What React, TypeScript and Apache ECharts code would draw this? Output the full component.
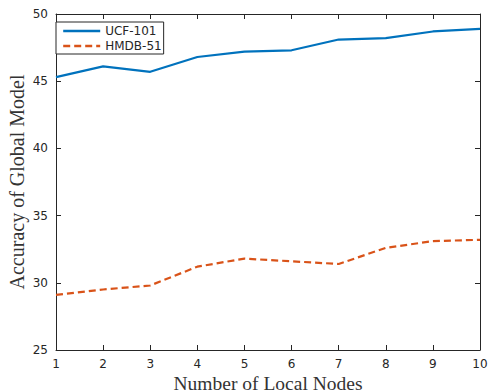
import React, { useEffect, useRef } from "react";
import * as echarts from "echarts";

const nodes = [1, 2, 3, 4, 5, 6, 7, 8, 9, 10];
const ucf101 = [45.3, 46.1, 45.7, 46.8, 47.2, 47.3, 48.1, 48.2, 48.7, 48.9];
const hmdb51 = [29.1, 29.5, 29.8, 31.2, 31.8, 31.6, 31.4, 32.6, 33.1, 33.2];
const seriesNames = ["UCF-101", "HMDB-51"];
const xTitle = "Number of Local Nodes";
const yTitle = "Accuracy of Global Model";

const axisColor = "#262626";

export default function App() {
  const ref = useRef<HTMLDivElement>(null);
  useEffect(() => {
    if (!ref.current) return;
    const chart = echarts.init(ref.current, null, { renderer: "svg" });
    const tickCommon = {
      axisLine: { show: true, lineStyle: { color: axisColor, width: 1 } },
      axisTick: { show: true, inside: true, length: 5, lineStyle: { color: axisColor } },
      splitLine: { show: false },
    };
    chart.setOption({
      animation: false,
      backgroundColor: "#ffffff",
      grid: { left: 56, right: 9, top: 14, bottom: 42, containLabel: false, outerBoundsMode: "none" },
      legend: {
        show: true,
        orient: "vertical",
        left: 56,
        top: 22,
        data: seriesNames,
        borderColor: axisColor,
        borderWidth: 1,
        padding: [3, 2, 2, 6],
        itemGap: 3,
        itemWidth: 37,
        itemHeight: 12,
        backgroundColor: "#ffffff",
        itemStyle: { opacity: 0 },
        lineStyle: { width: 2.4 },
        textStyle: { fontFamily: "DejaVu Sans", fontSize: 12, color: axisColor },
      },
      xAxis: [
        {
          type: "value",
          min: 1,
          max: 10,
          interval: 1,
          name: xTitle,
          nameLocation: "middle",
          nameGap: 24,
          nameMoveOverlap: false,
          nameTextStyle: { fontFamily: "Liberation Serif", fontSize: 19.5, lineHeight: 18, color: "#333" },
          axisLabel: { fontFamily: "DejaVu Sans", fontSize: 12, color: axisColor, margin: 8 },
          ...tickCommon,
        },
        {
          type: "value",
          position: "top",
          min: 1,
          max: 10,
          interval: 1,
          axisLabel: { show: false },
          ...tickCommon,
        },
      ],
      yAxis: [
        {
          type: "value",
          min: 25,
          max: 50,
          interval: 5,
          name: yTitle,
          nameLocation: "middle",
          nameGap: 29,
          nameMoveOverlap: false,
          nameRotate: 90,
          nameTextStyle: { fontFamily: "Liberation Serif", fontSize: 20, lineHeight: 20, color: "#333" },
          axisLabel: { fontFamily: "DejaVu Sans", fontSize: 12, color: axisColor, margin: 8 },
          ...tickCommon,
        },
        {
          type: "value",
          position: "right",
          min: 25,
          max: 50,
          interval: 5,
          axisLabel: { show: false },
          ...tickCommon,
        },
      ],
      series: [
        {
          name: seriesNames[0],
          type: "line",
          data: nodes.map((n, i) => [n, ucf101[i]]),
          showSymbol: false,
          symbol: "none",
          lineStyle: { color: "#0072BD", width: 2.2, type: "solid" },
          itemStyle: { color: "#0072BD" },
        },
        {
          name: seriesNames[1],
          type: "line",
          data: nodes.map((n, i) => [n, hmdb51[i]]),
          showSymbol: false,
          symbol: "none",
          lineStyle: { color: "#D95319", width: 2.2, type: [7, 4] },
          itemStyle: { color: "#D95319" },
        },
      ],
    });
    return () => chart.dispose();
  }, []);
  return (
    <div
      ref={ref}
      style={{ position: "fixed", left: 0, top: 0, width: 489, height: 392, background: "#fff" }}
    />
  );
}
